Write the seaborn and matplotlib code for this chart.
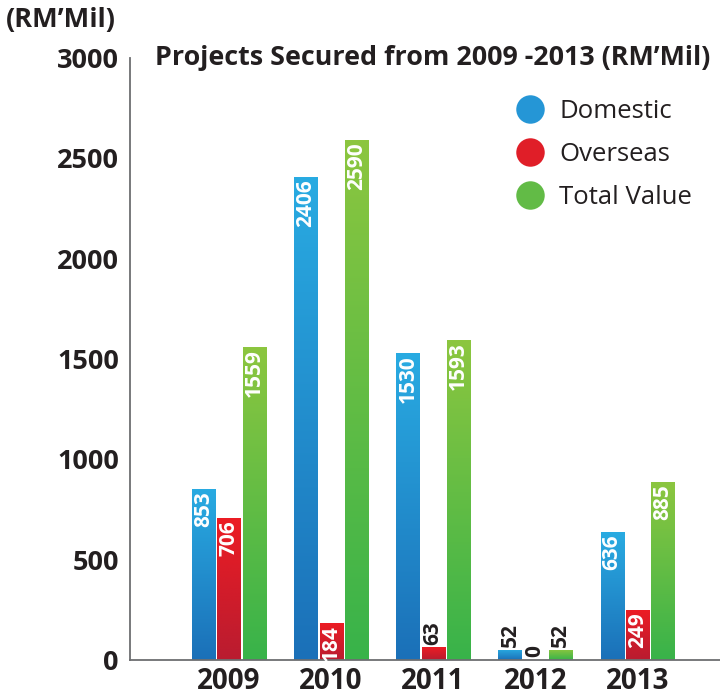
import numpy as np
import pandas as pd
import matplotlib
matplotlib.use("Agg")
import matplotlib.pyplot as plt
import seaborn as sns
from matplotlib.colors import LinearSegmentedColormap
from matplotlib.lines import Line2D

# data
years = ["2009", "2010", "2011", "2012", "2013"]
domestic = [853, 2406, 1530, 52, 636]
overseas = [706, 184, 63, 0, 249]
total_value = [1559, 2590, 1593, 52, 885]
series = ["Domestic", "Overseas", "Total Value"]

# gradient colours per series (top, bottom) and legend colour
grad_colors = {
    "Domestic": ("#29abe2", "#1b70b8"),
    "Overseas": ("#ec1c24", "#b91c30"),
    "Total Value": ("#8cc63f", "#38b34a"),
}
legend_colors = ["#2596d6", "#e01e28", "#62bb46"]
text_dark = "#231f20"
axis_gray = "#6d6e71"

df = pd.DataFrame({
    "Year": years * 3,
    "Series": [s for s in series for _ in years],
    "Value": domestic + overseas + total_value,
})

sns.set_style("white")
plt.rcParams["font.family"] = ["Open Sans", "DejaVu Sans"]

fig = plt.figure(figsize=(7.2, 6.97), dpi=100)
ax = fig.add_axes([130 / 720, 37 / 697, 590 / 720, 602 / 697])

sns.barplot(data=df, x="Year", y="Value", hue="Series", hue_order=series,
            palette=[grad_colors[s][0] for s in series], width=0.74, gap=0.08,
            legend=False, ax=ax, zorder=2)


def fill_gradient(bar, top, bottom):
    x0, y0 = bar.get_x(), bar.get_y()
    w, h = bar.get_width(), bar.get_height()
    bar.set_facecolor("none")
    bar.set_edgecolor("none")
    if h <= 0:
        return
    cmap = LinearSegmentedColormap.from_list("g", [bottom, top])
    grad = np.linspace(0, 1, 256).reshape(-1, 1)
    im = ax.imshow(grad, cmap=cmap, extent=[x0, x0 + w, y0, y0 + h],
                   origin="lower", aspect="auto", zorder=2)
    im.set_clip_path(bar)


for name, cont in zip(series, ax.containers):
    top, bottom = grad_colors[name]
    for bar in cont:
        v = bar.get_height()
        fill_gradient(bar, top, bottom)
        xc = bar.get_x() + bar.get_width() / 2
        if v >= 150:
            ax.annotate(f"{v:.0f}", (xc, v), xytext=(0, -1.5), textcoords="offset points",
                        rotation=90, ha="center", va="top", color="white",
                        fontsize=15, fontweight="bold", zorder=4)
        else:
            ax.annotate(f"{v:.0f}", (xc, v), xytext=(0, 2), textcoords="offset points",
                        rotation=90, ha="center", va="bottom", color=text_dark,
                        fontsize=15, fontweight="bold", zorder=4)

ax.set_xlim(-0.97, 4.81)
ax.set_ylim(0, 3000)
ax.set_yticks([0, 500, 1000, 1500, 2000, 2500, 3000])
ax.set_xlabel("")
ax.set_ylabel("")

for side in ["top", "right"]:
    ax.spines[side].set_visible(False)
for side in ["left", "bottom"]:
    ax.spines[side].set_color(axis_gray)
    ax.spines[side].set_linewidth(1.3)

ax.tick_params(axis="y", direction="in", length=11, width=1.1, color=axis_gray,
               labelsize=19.5, labelcolor=text_dark, pad=8)
ax.tick_params(axis="x", length=0, labelsize=20, labelcolor=text_dark, pad=5)
for lbl in ax.get_yticklabels() + ax.get_xticklabels():
    lbl.set_fontweight("bold")

fig.text(6 / 720, 1 - 20 / 697, "(RM\u2019Mil)", fontsize=19.5, fontweight="bold",
         color=text_dark, ha="left", va="center")
fig.text(155 / 720, 1 - 58 / 697, "Projects Secured from 2009 -2013 (RM\u2019Mil)",
         fontsize=19.4, fontweight="bold", color=text_dark, ha="left", va="center")

handles = [Line2D([], [], marker="o", linestyle="none", markersize=20.5,
                  markerfacecolor=c, markeredgecolor="none") for c in legend_colors]
ax.legend(handles, series, loc="upper left", bbox_to_anchor=(499 / 720, 1 - 86 / 697),
          bbox_transform=fig.transFigure, frameon=False, fontsize=18.5,
          labelcolor=text_dark, handlelength=1.4, handletextpad=0.45,
          labelspacing=0.7, borderpad=0)

fig.savefig("out.png", dpi=100)
